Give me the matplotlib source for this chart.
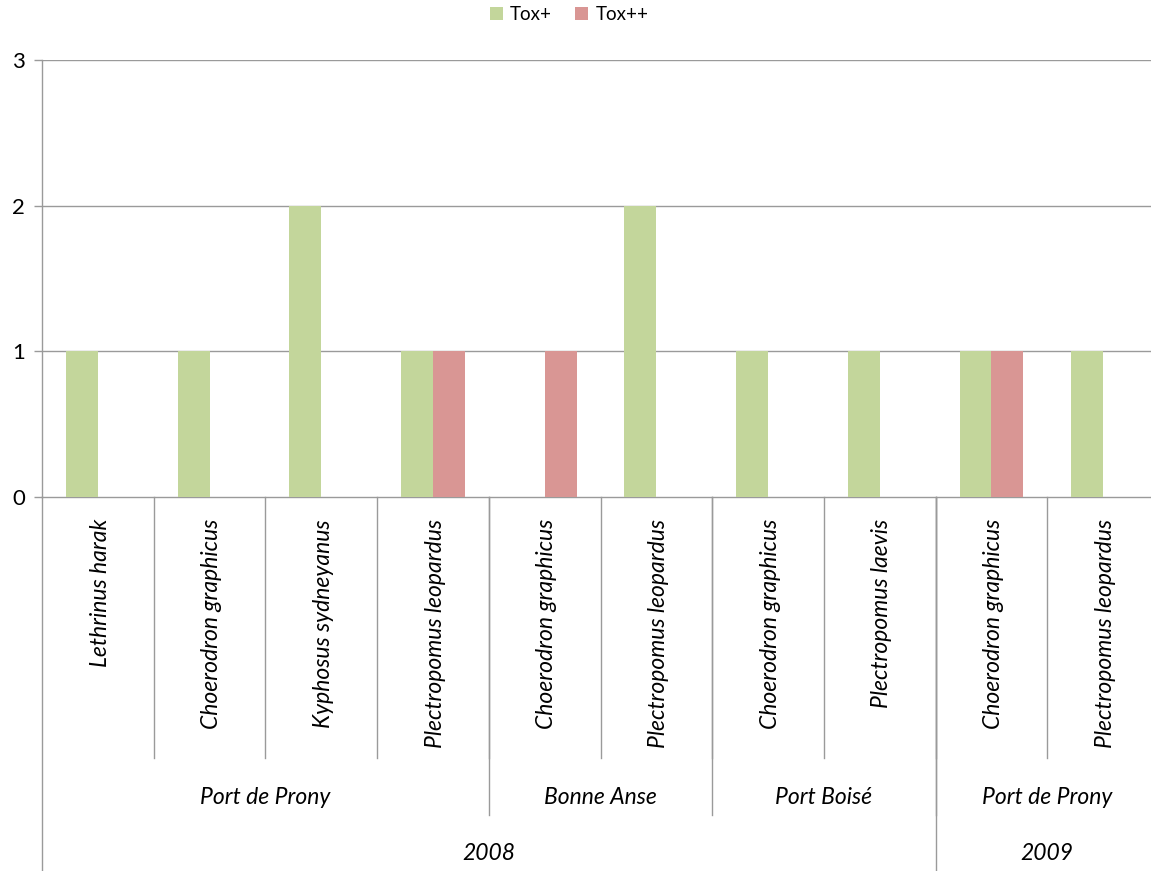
import matplotlib
matplotlib.use("Agg")
import matplotlib.pyplot as plt
from matplotlib.transforms import blended_transform_factory
from matplotlib.patches import Patch

species = ["Lethrinus harak", "Choerodron graphicus", "Kyphosus sydneyanus",
           "Plectropomus leopardus", "Choerodron graphicus", "Plectropomus leopardus",
           "Choerodron graphicus", "Plectropomus laevis", "Choerodron graphicus",
           "Plectropomus leopardus"]
# (label, first index, last index)
sites = [("Port de Prony", 0, 3), ("Bonne Anse", 4, 5), ("Port Boisé", 6, 7),
         ("Port de Prony", 8, 9)]
years = [("2008", 0, 7), ("2009", 8, 9)]
tox_plus = [1, 1, 2, 1, 0, 2, 1, 1, 1, 1]
tox_plusplus = [0, 0, 0, 1, 1, 0, 0, 0, 1, 0]
yticks = [0, 1, 2, 3]

GREEN = "#C3D69B"
RED = "#D99694"
GRID = "#9A9A9A"
FONT = "Lato"
LABEL_SIZE = 16.5

W, H = 1151, 871
fig = plt.figure(figsize=(W / 100, H / 100), dpi=100)
plt.rcParams["font.family"] = [FONT, "DejaVu Sans"]

left_px, right_px, top_px, zero_px = 42, 1159, 60, 497
ax = fig.add_axes([left_px / W, (H - zero_px) / H,
                   (right_px - left_px) / W, (zero_px - top_px) / H])

n = len(species)
xs = list(range(n))
bw = 1 / 3.5
ax.bar([x - bw / 2 for x in xs], tox_plus, width=bw, color=GREEN, zorder=3)
ax.bar([x + bw / 2 for x in xs], tox_plusplus, width=bw, color=RED, zorder=3)

ax.set_xlim(-0.5, n - 0.5)
ax.set_ylim(0, 3)
ax.set_yticks(yticks)
ax.set_yticklabels([str(v) for v in yticks], fontsize=16)
ax.set_xticks([])
for v in yticks[1:]:
    ax.axhline(v, color=GRID, lw=1, zorder=1)
for s in ["top", "right"]:
    ax.spines[s].set_visible(False)
for s in ["left", "bottom"]:
    ax.spines[s].set_color(GRID)
    ax.spines[s].set_linewidth(1)
ax.tick_params(axis="y", length=6, color=GRID, width=1, pad=6)

tr = blended_transform_factory(ax.transData, fig.transFigure)

def fy(px):
    return (H - px) / H

def vline(x, bottom_px):
    ax.plot([x, x], [fy(zero_px), fy(bottom_px)], transform=tr,
            color=GRID, lw=1, clip_on=False, zorder=2)

# category dividers for each tier
for k in range(n - 1):
    vline(k + 0.5, 758)
for _, a, b in sites[:-1]:
    vline(b + 0.5, 815)
for _, a, b in years[:-1]:
    vline(b + 0.5, 870)
vline(-0.5, 871)

for x, name in zip(xs, species):
    ax.text(x + 0.02, fy(519), name, transform=tr, rotation=90, ha="center",
            va="top", fontsize=LABEL_SIZE, style="italic")
for name, a, b in sites:
    ax.text((a + b) / 2, fy(797), name, transform=tr, ha="center",
            va="center", fontsize=LABEL_SIZE, style="italic")
for name, a, b in years:
    ax.text((a + b) / 2, fy(853), name, transform=tr, ha="center",
            va="center", fontsize=LABEL_SIZE, style="italic")

handles = [Patch(facecolor=GREEN, label="Tox+"), Patch(facecolor=RED, label="Tox++")]
fig.legend(handles=handles, loc="center", bbox_to_anchor=(569 / W, fy(15)),
           ncol=2, frameon=False, fontsize=13.5, handlelength=0.7,
           handleheight=0.7, handletextpad=0.4, columnspacing=1.2)

fig.savefig("out.png", dpi=100)
